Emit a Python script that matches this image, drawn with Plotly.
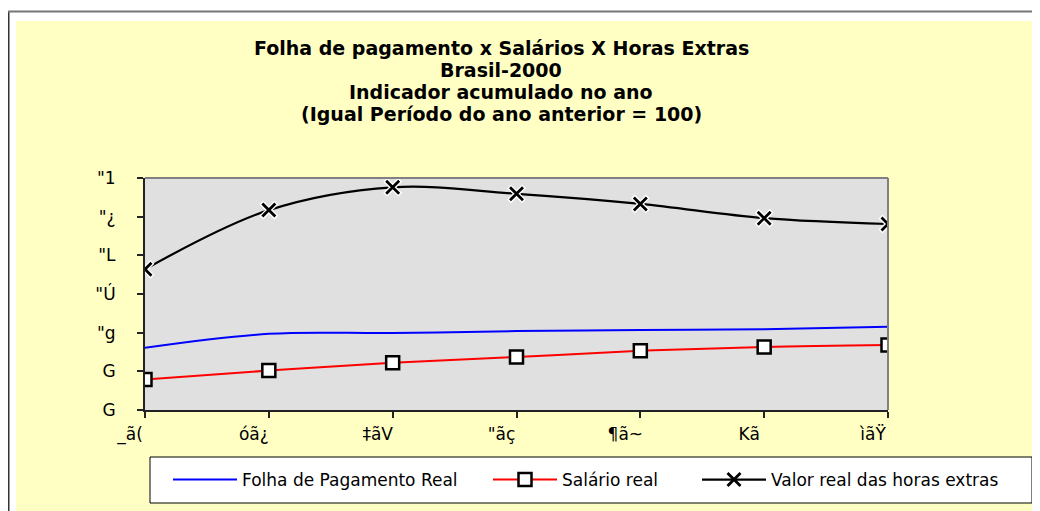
import plotly.graph_objects as go

# ---- data ----
categories = ["_ã(", "óã¿", "‡ãV", "\"ãç", "¶ã~", "Kã", "ìãŸ"]
ytick_vals = [0, 1, 2, 3, 4, 5, 6]
ytick_text = ["G", "G", "\"g", "\"Ú", "\"L", "\"¿", "\"1"]
folha = [1.61, 1.97, 1.99, 2.04, 2.07, 2.09, 2.15]
salario = [0.79, 1.02, 1.22, 1.37, 1.53, 1.63, 1.68]
horas = [3.64, 5.17, 5.76, 5.59, 5.33, 4.96, 4.81]
series_names = ["Folha de Pagamento Real", "Salário real", "Valor real das horas extras"]
title_lines = ["Folha de pagamento x Salários X Horas Extras", "Brasil-2000",
               "Indicador acumulado no ano", "(Igual Período do ano anterior = 100)"]

# ---- geometry (page px minus 8 px body margin) ----
OFF = 8
W, H = 1040 - OFF, 511 - OFF
PL, PR, PT, PB = 145 - OFF, 888 - OFF, 178 - OFF, 410 - OFF
PW, PH = PR - PL, PB - PT


def px2x(px):
    return (px - OFF - PL) / PW


def py2y(py):
    return (PB - (py - OFF)) / PH


FONT = "DejaVu Sans"
YELLOW = "#FFFFC4"
PLOTBG = "#E0E0E0"

fig = go.Figure()
fig.add_trace(go.Scatter(
    x=categories, y=folha, name=series_names[0], mode="lines",
    line=dict(color="#0000FF", width=2, shape="spline"), legend="legend"))
fig.add_trace(go.Scatter(
    x=categories, y=salario, name=series_names[1], mode="lines+markers",
    line=dict(color="#FF0000", width=2, shape="spline"),
    marker=dict(symbol="square", size=13, color="white", line=dict(color="black", width=2.5)),
    legend="legend2"))
fig.add_trace(go.Scatter(
    x=categories, y=horas, name=series_names[2], mode="lines+markers",
    line=dict(color="black", width=2.2, shape="spline"),
    marker=dict(symbol="x-thin", size=13, color="black", line=dict(color="black", width=2.8)),
    legend="legend3"))
# white halo under X markers, then X markers again
fig.add_trace(go.Scatter(
    x=categories, y=horas, mode="markers", showlegend=False, hoverinfo="skip",
    marker=dict(symbol="x-thin", size=15, color="white", line=dict(color="white", width=5.5))))
fig.add_trace(go.Scatter(
    x=categories, y=horas, mode="markers", showlegend=False, hoverinfo="skip",
    marker=dict(symbol="x-thin", size=13, color="black", line=dict(color="black", width=2.8))))

shapes = [
    # white strips around the yellow chart area
    dict(type="rect", xref="paper", yref="paper", x0=px2x(0), x1=px2x(1040), y0=py2y(21), y1=py2y(0),
         fillcolor="white", line=dict(width=0), layer="below"),
    dict(type="rect", xref="paper", yref="paper", x0=px2x(0), x1=px2x(16), y0=py2y(511), y1=py2y(0),
         fillcolor="white", line=dict(width=0), layer="below"),
    # outer frame lines
    dict(type="line", xref="paper", yref="paper", x0=px2x(8.5), x1=px2x(8.5), y0=py2y(11), y1=py2y(511),
         line=dict(color="#333333", width=2)),
    dict(type="line", xref="paper", yref="paper", x0=px2x(8), x1=px2x(1040), y0=py2y(11.5), y1=py2y(11.5),
         line=dict(color="#777777", width=2)),
    # plot-area top/right border
    dict(type="line", xref="paper", yref="paper", x0=0, x1=1, y0=1, y1=1,
         line=dict(color="#808080", width=2)),
    dict(type="line", xref="paper", yref="paper", x0=1, x1=1, y0=0, y1=1,
         line=dict(color="#808080", width=2)),
    # legend box
    dict(type="rect", xref="paper", yref="paper", x0=px2x(150), x1=px2x(1032), y0=py2y(503), y1=py2y(457),
         fillcolor="white", line=dict(color="black", width=1), layer="below"),
]

leg_common = dict(orientation="h", xanchor="left", yanchor="middle", y=py2y(480),
                  bgcolor="rgba(0,0,0,0)", borderwidth=0, itemwidth=64,
                  font=dict(family=FONT, size=17, color="black"))

title_y = [48, 70, 92, 114]
annotations = [dict(text=t, xref="paper", yref="paper", x=px2x(501), y=py2y(yy),
                    xanchor="center", yanchor="middle", showarrow=False,
                    font=dict(family=FONT, size=19, color="black", weight="bold"))
               for t, yy in zip(title_lines, title_y)]

fig.update_layout(
    width=W, height=H, autosize=False,
    margin=dict(l=PL, r=W - PR, t=PT, b=H - PB, pad=0),
    paper_bgcolor=YELLOW, plot_bgcolor=PLOTBG,
    font=dict(family=FONT, size=16, color="black"),
    annotations=annotations,
    xaxis=dict(type="category", range=[0, 6], showgrid=False, zeroline=False,
               showline=True, linecolor="#222222", linewidth=2,
               ticks="outside", ticklen=6, tickwidth=1.5, tickcolor="#222222",
               tickfont=dict(family=FONT, size=17, color="black"),
               ticklabelstandoff=2, ticklabelshift=-15),
    yaxis=dict(range=[0, 6], tickmode="array", tickvals=ytick_vals, ticktext=ytick_text,
               showgrid=False, zeroline=False, showline=True, linecolor="#222222", linewidth=2,
               ticks="outside", ticklen=6, tickwidth=1.5, tickcolor="#222222",
               tickfont=dict(family=FONT, size=17, color="black"), ticklabelstandoff=18),
    xaxis2=dict(overlaying="x", anchor="y", range=[0, 6], tickmode="array", tickvals=ytick_vals,
                showticklabels=False, showgrid=False, zeroline=False, showline=False,
                ticks="inside", ticklen=6, tickwidth=1.5, tickcolor="#222222", side="bottom"),
    yaxis2=dict(overlaying="y", anchor="x", range=[0, 6], tickmode="array", tickvals=ytick_vals,
                showticklabels=False, showgrid=False, zeroline=False, showline=False,
                ticks="inside", ticklen=6, tickwidth=1.5, tickcolor="#222222", side="left"),
    legend=dict(x=px2x(168), **leg_common),
    legend2=dict(x=px2x(488), **leg_common),
    legend3=dict(x=px2x(697), **leg_common),
    shapes=shapes,
    showlegend=True,
)

fig.write_html("out.html")
